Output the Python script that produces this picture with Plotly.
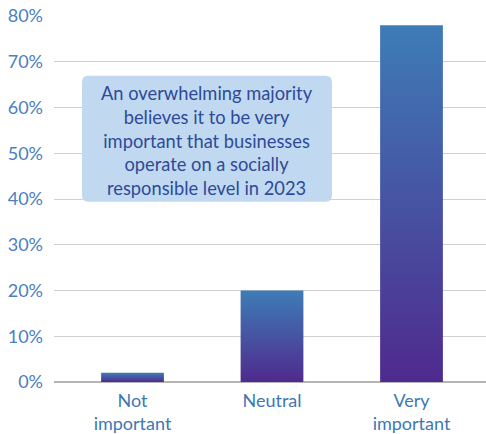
import plotly.graph_objects as go

categories = ["Not<br>important", "Neutral", "Very<br>important"]
values = [2, 20, 78]
y_ticks = [0, 10, 20, 30, 40, 50, 60, 70, 80]
y_ticklabels = [f"{v}%" for v in y_ticks]
note = ("An overwhelming majority<br>believes it to be very<br>important that businesses"
        "<br>operate on a socially<br>responsible level in 2023")

BAR_W = 0.45
TOP_C = "#3e7cb7"
BOT_C = "#4f2a8e"
FONT = "Lato"

fig = go.Figure()
for i, v in enumerate(values):
    x0, x1 = i - BAR_W / 2, i + BAR_W / 2
    fig.add_trace(go.Scatter(
        x=[x0, x1, x1, x0, x0], y=[0, 0, v, v, 0],
        mode="lines", line=dict(width=0), fill="toself",
        fillgradient=dict(type="vertical", colorscale=[[0, BOT_C], [1, TOP_C]]),
        hoverinfo="skip", showlegend=False,
    ))

# rounded note box in data coords
bx0, bx1, by0, by1 = -0.362, 1.430, 39.4, 66.95
rx, ry = 0.045, 1.4
path = (f"M {bx0+rx},{by0} L {bx1-rx},{by0} Q {bx1},{by0} {bx1},{by0+ry} "
        f"L {bx1},{by1-ry} Q {bx1},{by1} {bx1-rx},{by1} L {bx0+rx},{by1} "
        f"Q {bx0},{by1} {bx0},{by1-ry} L {bx0},{by0+ry} Q {bx0},{by0} {bx0+rx},{by0} Z")
fig.add_shape(type="path", path=path, xref="x", yref="y",
              fillcolor="#c0d9f0", line=dict(width=0), layer="above")
fig.add_annotation(x=(bx0 + bx1) / 2, y=(by0 + by1) / 2 - 0.3, xref="x", yref="y",
                   text=note, showarrow=False,
                   font=dict(family=FONT, size=18.3, color="#2f4a98"), align="center")

fig.update_layout(
    width=486, height=434,
    margin=dict(l=54, r=0, t=16, b=52),
    plot_bgcolor="white", paper_bgcolor="white",
    font=dict(family=FONT, size=18, color="#4a80c0"),
    xaxis=dict(range=[-0.5627, 2.534], tickvals=[0, 1, 2], ticktext=categories,
               showgrid=False, zeroline=False, showline=False, automargin=False,
               ticks="", ticklabelstandoff=6, tickfont=dict(size=18, color="#3d78b4"),
               fixedrange=True),
    yaxis=dict(range=[0, 80], tickvals=y_ticks, ticktext=y_ticklabels,
               showgrid=True, gridcolor="#d0d0d0", gridwidth=1.3, automargin=False,
               zeroline=True, zerolinecolor="#b5b5b5", zerolinewidth=1.5,
               ticks="", ticklabelstandoff=10, tickfont=dict(size=18, color="#4a80c0"),
               fixedrange=True),
)

fig.write_html("out.html")
